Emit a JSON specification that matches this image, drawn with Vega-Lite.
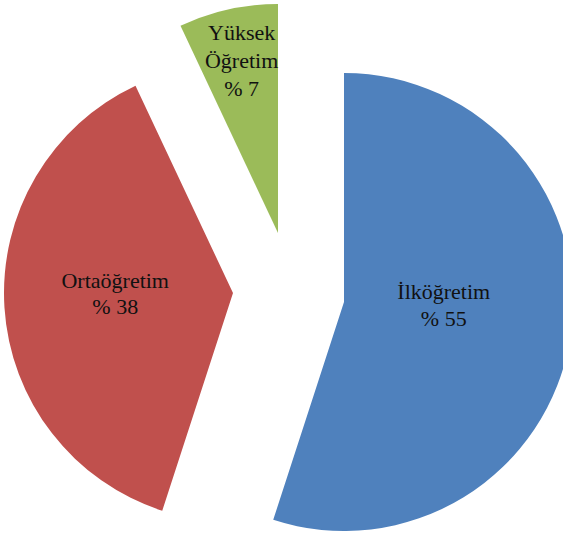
{
  "$schema": "https://vega.github.io/schema/vega-lite/v6.json",
  "width": 563,
  "height": 537,
  "autosize": "none",
  "padding": 0,
  "background": "white",
  "config": {"view": {"stroke": null}, "text": {"font": "Times New Roman, Liberation Serif, DejaVu Serif, serif"}},
  "data": {
    "values": [
      {"idx": 1, "cat": "İlköğretim", "pct": 55, "label": "İlköğretim\n% 55"},
      {"idx": 2, "cat": "Ortaöğretim", "pct": 38, "label": "Ortaöğretim\n% 38"},
      {"idx": 3, "cat": "Yüksek Öğretim", "pct": 7, "label": "Yüksek\nÖğretim\n% 7"}
    ]
  },
  "encoding": {
    "theta": {"field": "pct", "type": "quantitative", "stack": true},
    "order": {"field": "idx", "type": "quantitative"},
    "color": {
      "field": "cat",
      "type": "nominal",
      "scale": {"domain": ["İlköğretim", "Ortaöğretim", "Yüksek Öğretim"], "range": ["#4F81BD", "#C0504D", "#9BBB59"]},
      "legend": null
    }
  },
  "layer": [
    {
      "mark": {"type": "arc", "outerRadius": 229, "xOffset": 62.5, "yOffset": 33.5},
      "encoding": {"fillOpacity": {"condition": {"test": "datum.idx === 1", "value": 1}, "value": 0}}
    },
    {
      "mark": {"type": "arc", "outerRadius": 229, "xOffset": -48.5, "yOffset": 24.5},
      "encoding": {"fillOpacity": {"condition": {"test": "datum.idx === 2", "value": 1}, "value": 0}}
    },
    {
      "mark": {"type": "arc", "outerRadius": 229, "xOffset": -3.5, "yOffset": -35.5},
      "encoding": {"fillOpacity": {"condition": {"test": "datum.idx === 3", "value": 1}, "value": 0}}
    },
    {
      "mark": {"type": "text", "radius": 101, "xOffset": 62.5, "yOffset": 33.5, "dy": -26, "font": "Times New Roman, Liberation Serif, DejaVu Serif, serif", "fontSize": 22, "lineBreak": "\n", "lineHeight": 27, "align": "center", "baseline": "middle"},
      "encoding": {
        "text": {"field": "label", "type": "nominal"},
        "color": {"value": "#111111"},
        "opacity": {"condition": {"test": "datum.idx === 1", "value": 1}, "value": 0}
      }
    },
    {
      "mark": {"type": "text", "radius": 118, "xOffset": -48.5, "yOffset": 24.5, "dy": -19, "font": "Times New Roman, Liberation Serif, DejaVu Serif, serif", "fontSize": 22, "lineBreak": "\n", "lineHeight": 26, "align": "center", "baseline": "middle"},
      "encoding": {
        "text": {"field": "label", "type": "nominal"},
        "color": {"value": "#111111"},
        "opacity": {"condition": {"test": "datum.idx === 2", "value": 1}, "value": 0}
      }
    },
    {
      "mark": {"type": "text", "radius": 176, "xOffset": -3.5, "yOffset": -35.5, "dx": 2, "dy": -28, "font": "Times New Roman, Liberation Serif, DejaVu Serif, serif", "fontSize": 22, "lineBreak": "\n", "lineHeight": 28, "align": "center", "baseline": "middle"},
      "encoding": {
        "text": {"field": "label", "type": "nominal"},
        "color": {"value": "#111111"},
        "opacity": {"condition": {"test": "datum.idx === 3", "value": 1}, "value": 0}
      }
    }
  ]
}
